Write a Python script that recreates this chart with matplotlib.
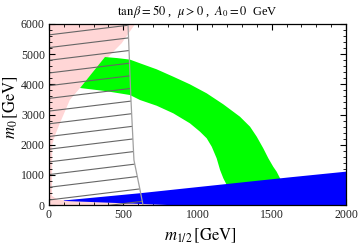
import numpy as np
import matplotlib
matplotlib.use("Agg")
import matplotlib.pyplot as plt
from matplotlib.patches import Polygon
from matplotlib.ticker import MultipleLocator

plt.rcParams['font.family'] = ['Liberation Serif', 'DejaVu Serif']
plt.rcParams['mathtext.fontset'] = 'stix'

# --- region boundaries (m12, m0) in GeV ---
pink_m12 = [0, 795, 60, 20, 22, 40, 74, 140, 197, 300, 422, 489, 580, 0]
pink_m0 = [0, 0, 170, 300, 2000, 2300, 2720, 3480, 3812, 4400, 5028, 5360, 6000, 6000]

green_upper_m12 = [377, 460, 545, 613, 725, 837, 949, 1062, 1174, 1286, 1354,
                   1399, 1443, 1477, 1510, 1533, 1556, 1590]
green_upper_m0 = [4905, 4870, 4820, 4697, 4498, 4253, 4000, 3702, 3337, 2927, 2595,
                  2264, 1879, 1548, 1269, 1104, 885, 600]
green_lower_m12 = [209, 377, 545, 613, 725, 837, 949, 1017, 1062, 1096, 1129,
                   1152, 1174, 1197, 1215]
green_lower_m0 = [3878, 3779, 3646, 3480, 3291, 3039, 2708, 2430, 2211, 1932, 1548,
                  1160, 885, 663, 450]

blue_upper_m12 = [100, 613, 927, 1623, 2000]
blue_upper_m0 = [150, 390, 555, 918, 1105]
blue_lower_m12 = [2000, 795, 100]
blue_lower_m0 = [0, 0, 135]

bound_m12 = [532, 552, 572, 613, 633]
bound_m0 = [6000, 3480, 1490, 500, 0]

hatch_slope = 0.6
hatch_c0 = 166
hatch_step = 421

fig = plt.figure(figsize=(3.6, 2.48), dpi=100)
ax = fig.add_axes([49/360, 1-205/248, 297/360, 181/248])
ax.set_xlim(0, 2000)
ax.set_ylim(0, 6000)

# pink
ax.add_patch(Polygon(np.column_stack([pink_m12, pink_m0]), closed=True,
                     facecolor='#ffd6d6', edgecolor='none', zorder=1))

# green band
gx = green_upper_m12 + green_lower_m12[::-1]
gy = green_upper_m0 + green_lower_m0[::-1]
ax.add_patch(Polygon(np.column_stack([gx, gy]), closed=True,
                     facecolor='#00ff00', edgecolor='none', zorder=3))

# blue
bx = blue_upper_m12 + blue_lower_m12
by = blue_upper_m0 + blue_lower_m0
ax.add_patch(Polygon(np.column_stack([bx, by]), closed=True,
                     facecolor='#0000ff', edgecolor='none', zorder=4))

# hatched region (drawn on top)
hx = [0] + bound_m12 + [0]
hy = [6000] + bound_m0 + [0]
hatch_poly = Polygon(np.column_stack([hx, hy]), closed=True,
                     facecolor='none', edgecolor='none')
ax.add_patch(hatch_poly)
xs = np.array([0, 700])
for k in range(-2, 15):
    c = hatch_c0 + hatch_step * k
    ln, = ax.plot(xs, c + hatch_slope * xs, color='#666666', lw=0.8, zorder=5)
    ln.set_clip_path(hatch_poly)
ax.plot(bound_m12, bound_m0, color='#a0a0a0', lw=0.9, zorder=5)

ax.set_xticks([0, 500, 1000, 1500, 2000])
ax.set_yticks([0, 1000, 2000, 3000, 4000, 5000, 6000])
ax.xaxis.set_minor_locator(MultipleLocator(100))
ax.yaxis.set_minor_locator(MultipleLocator(200))
ax.tick_params(which='both', direction='in', top=True, right=True,
               labelsize=8.5, labelcolor='#222222', pad=3)
ax.tick_params(which='major', length=4, width=0.8)
ax.tick_params(which='minor', length=2.5, width=0.6)
for s in ax.spines.values():
    s.set_linewidth(0.9)
    s.set_zorder(6)

fig.text(197.5/360, 1-11/248, r'$\tan\beta=50$ ,  $\mu>0$ ,  $A_0=0$  GeV',
         ha='center', va='center', fontsize=9)
fig.text(200/360, 1-236/248, r'$m_{1/2}\,[\mathrm{GeV}]$', ha='center', va='center', fontsize=12)
fig.text(11/360, 1-107/248, r'$m_0\,[\mathrm{GeV}]$', ha='center', va='center',
         fontsize=12, rotation=90)

fig.savefig('out.png', dpi=100)
